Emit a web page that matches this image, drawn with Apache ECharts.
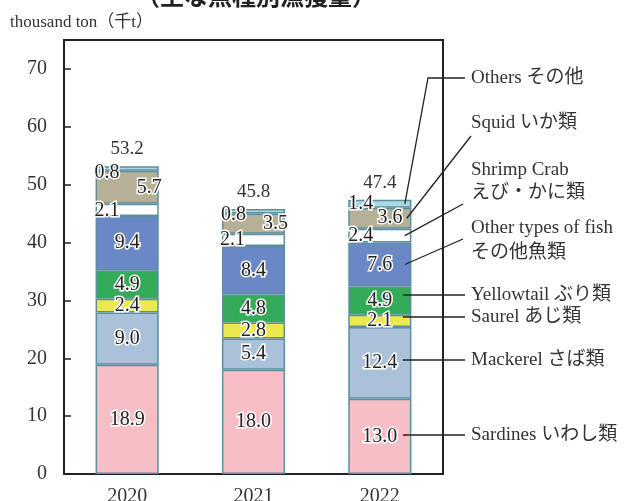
<!DOCTYPE html>
<html>
<head>
<meta charset="utf-8">
<script src="https://cdn.jsdelivr.net/npm/echarts@6/dist/echarts.min.js"></script>
<style>
html,body{margin:0;padding:0;background:#fff;}
#chart{width:628px;height:501px;}
</style>
</head>
<body>
<div id="chart"></div>
<script>
// ---- data ----
const categories = ['2020', '2021', '2022'];
const sardines   = [18.9, 18.0, 13.0];
const mackerel   = [9.0, 5.4, 12.4];
const saurel     = [2.4, 2.8, 2.1];
const yellowtail = [4.9, 4.8, 4.9];
const otherFish  = [9.4, 8.4, 7.6];
const shrimpCrab = [2.1, 2.1, 2.4];
const squid      = [5.7, 3.5, 3.6];
const others     = [0.8, 0.8, 1.4];
const totals     = [53.2, 45.8, 47.4];
const seriesNames = ['Sardines いわし類', 'Mackerel さば類', 'Saurel あじ類', 'Yellowtail ぶり類',
  'Other types of fish その他魚類', 'Shrimp Crab えび・かに類', 'Squid いか類', 'Others その他'];
const legendLines = [['Sardines いわし類'], ['Mackerel さば類'], ['Saurel あじ類'], ['Yellowtail ぶり類'],
  ['Other types of fish', 'その他魚類'], ['Shrimp Crab', 'えび・かに類'], ['Squid いか類'], ['Others その他']];
const yMin = 0, yMax = 75, yStep = 10;   // ticks labelled 0..70
const unitLabel = 'thousand ton（千t）';
const titleText = '（主な魚種別漁獲量）';

// ---- styles / layout ----
const colors = ['#f7bec6', '#a9c1d9', '#ece94f', '#34ab58', '#6a88c6', '#ffffff', '#b6b196', '#a9d8e1'];
const serif = "'Liberation Serif', 'Noto Sans CJK JP', serif";
const labelPlace = {
  5: [{position: 'insideLeft', distance: 0, offset: [-1, 1]}, {position: 'insideLeft', distance: 0, offset: [-2, 0]}, {position: 'insideLeft', distance: 0, offset: [0, 0]}],
  6: [{position: 'insideRight', distance: 0, offset: [3, 0]}, {position: 'insideRight', distance: 0, offset: [3, 0]}, {position: 'insideRight', distance: 9, offset: [0, 0]}],
  7: [{position: 'insideLeft', distance: 0, offset: [-1, 4]}, {position: 'insideLeft', distance: 0, offset: [-1, 3]}, {position: 'insideLeft', distance: 0, offset: [0, 0]}]
};
const legendY = [[435], [360], [317], [295], [228, 253], [170, 193], [123], [78]];
const legendX = 471;

const seriesData = [sardines, mackerel, saurel, yellowtail, otherFish, shrimpCrab, squid, others];

const chart = echarts.init(document.getElementById('chart'), null, {renderer: 'canvas'});

const series = seriesData.map((arr, si) => ({
  name: seriesNames[si],
  type: 'bar',
  stack: 'total',
  barWidth: '50%',
  itemStyle: {color: colors[si], borderColor: '#5b8ea0', borderWidth: 1.5},
  label: {
    show: true, position: 'inside',
    formatter: p => Number(p.value).toFixed(1),
    fontFamily: serif, fontSize: 20, color: '#222',
    textBorderColor: '#fff', textBorderWidth: 3
  },
  data: arr.map((v, i) => {
    const item = {value: v};
    if (labelPlace[si]) item.label = labelPlace[si][i];
    return item;
  }),
  z: 2
}));

series.push({
  name: 'total',
  type: 'scatter',
  symbolSize: 1,
  itemStyle: {color: 'transparent'},
  label: {
    show: true, position: 'top', distance: 7, opacity: 1,
    formatter: p => Number(p.value).toFixed(1),
    fontFamily: serif, fontSize: 19, color: '#333'
  },
  emphasis: {disabled: true},
  data: totals,
  z: 3
});

chart.setOption({
  animation: false,
  backgroundColor: '#fff',
  grid: {left: 64, right: 185, top: 40, bottom: 27, show: true, borderColor: '#222', borderWidth: 2,
    containLabel: false, outerBoundsMode: 'none'},
  xAxis: {
    type: 'category', data: categories,
    axisLine: {show: true, lineStyle: {color: '#222', width: 2}},
    axisTick: {show: false},
    axisLabel: {fontFamily: serif, fontSize: 20, color: '#333', margin: 13}
  },
  yAxis: {
    type: 'value', min: yMin, max: yMax, interval: yStep,
    axisLine: {show: true, lineStyle: {color: '#222', width: 2}},
    axisTick: {show: true, inside: true, length: 7, lineStyle: {color: '#222', width: 1.5}},
    axisLabel: {fontFamily: serif, fontSize: 20, color: '#333', margin: 17, showMaxLabel: false,
      formatter: v => (v % yStep === 0 ? String(v) : '')},
    splitLine: {show: false}
  },
  series: series
});

// ---- callouts & text ----
const lastCat = categories[categories.length - 1];
const lastIdx = categories.length - 1;
function segMid(si) {
  let base = 0;
  for (let k = 0; k < si; k++) base += seriesData[k][lastIdx];
  return base + seriesData[si][lastIdx] / 2;
}
const graphics = [];
graphics.push({type: 'text', left: 10, top: 14, z: 10,
  style: {text: unitLabel, font: "17px " + serif, fill: '#333'}});
graphics.push({type: 'text', x: 256, y: -4, z: 10,
  style: {text: titleText, font: "bold 24px 'Noto Sans CJK JP', sans-serif", fill: '#222', textAlign: 'center', textVerticalAlign: 'middle'}});

const cx = chart.convertToPixel({xAxisIndex: 0, yAxisIndex: 0}, [lastCat, 0])[0];
const lineEndX = 465;
const inX = cx + 25;
for (let si = 0; si < seriesData.length; si++) {
  const ys = legendY[si];
  legendLines[si].forEach((t, li) => {
    graphics.push({type: 'text', x: legendX, y: ys[li], z: 10,
      style: {text: t, font: "19px " + serif, fill: '#333', textVerticalAlign: 'middle'}});
  });
  const py = chart.convertToPixel({xAxisIndex: 0, yAxisIndex: 0}, [lastCat, segMid(si)])[1];
  let pts;
  if (si <= 3) {
    pts = [[lineEndX, ys[0]], [cx + 23, ys[0]]];
  } else if (si === 7) {
    pts = [[lineEndX, ys[0]], [428, ys[0]], [inX, py]];
  } else if (si === 6) {
    pts = [[lineEndX + 6, ys[0] + 13], [inX + 2, py]];
  } else if (si === 5) {
    pts = [[lineEndX - 2, ys[1] + 11], [inX, py]];
  } else {
    pts = [[lineEndX - 2, ys[0] + 11], [inX, py]];
  }
  graphics.push({type: 'polyline', z: 10, shape: {points: pts},
    style: {stroke: '#222', lineWidth: 1.3, fill: null}});
}
chart.setOption({graphic: graphics});
</script>
</body>
</html>
